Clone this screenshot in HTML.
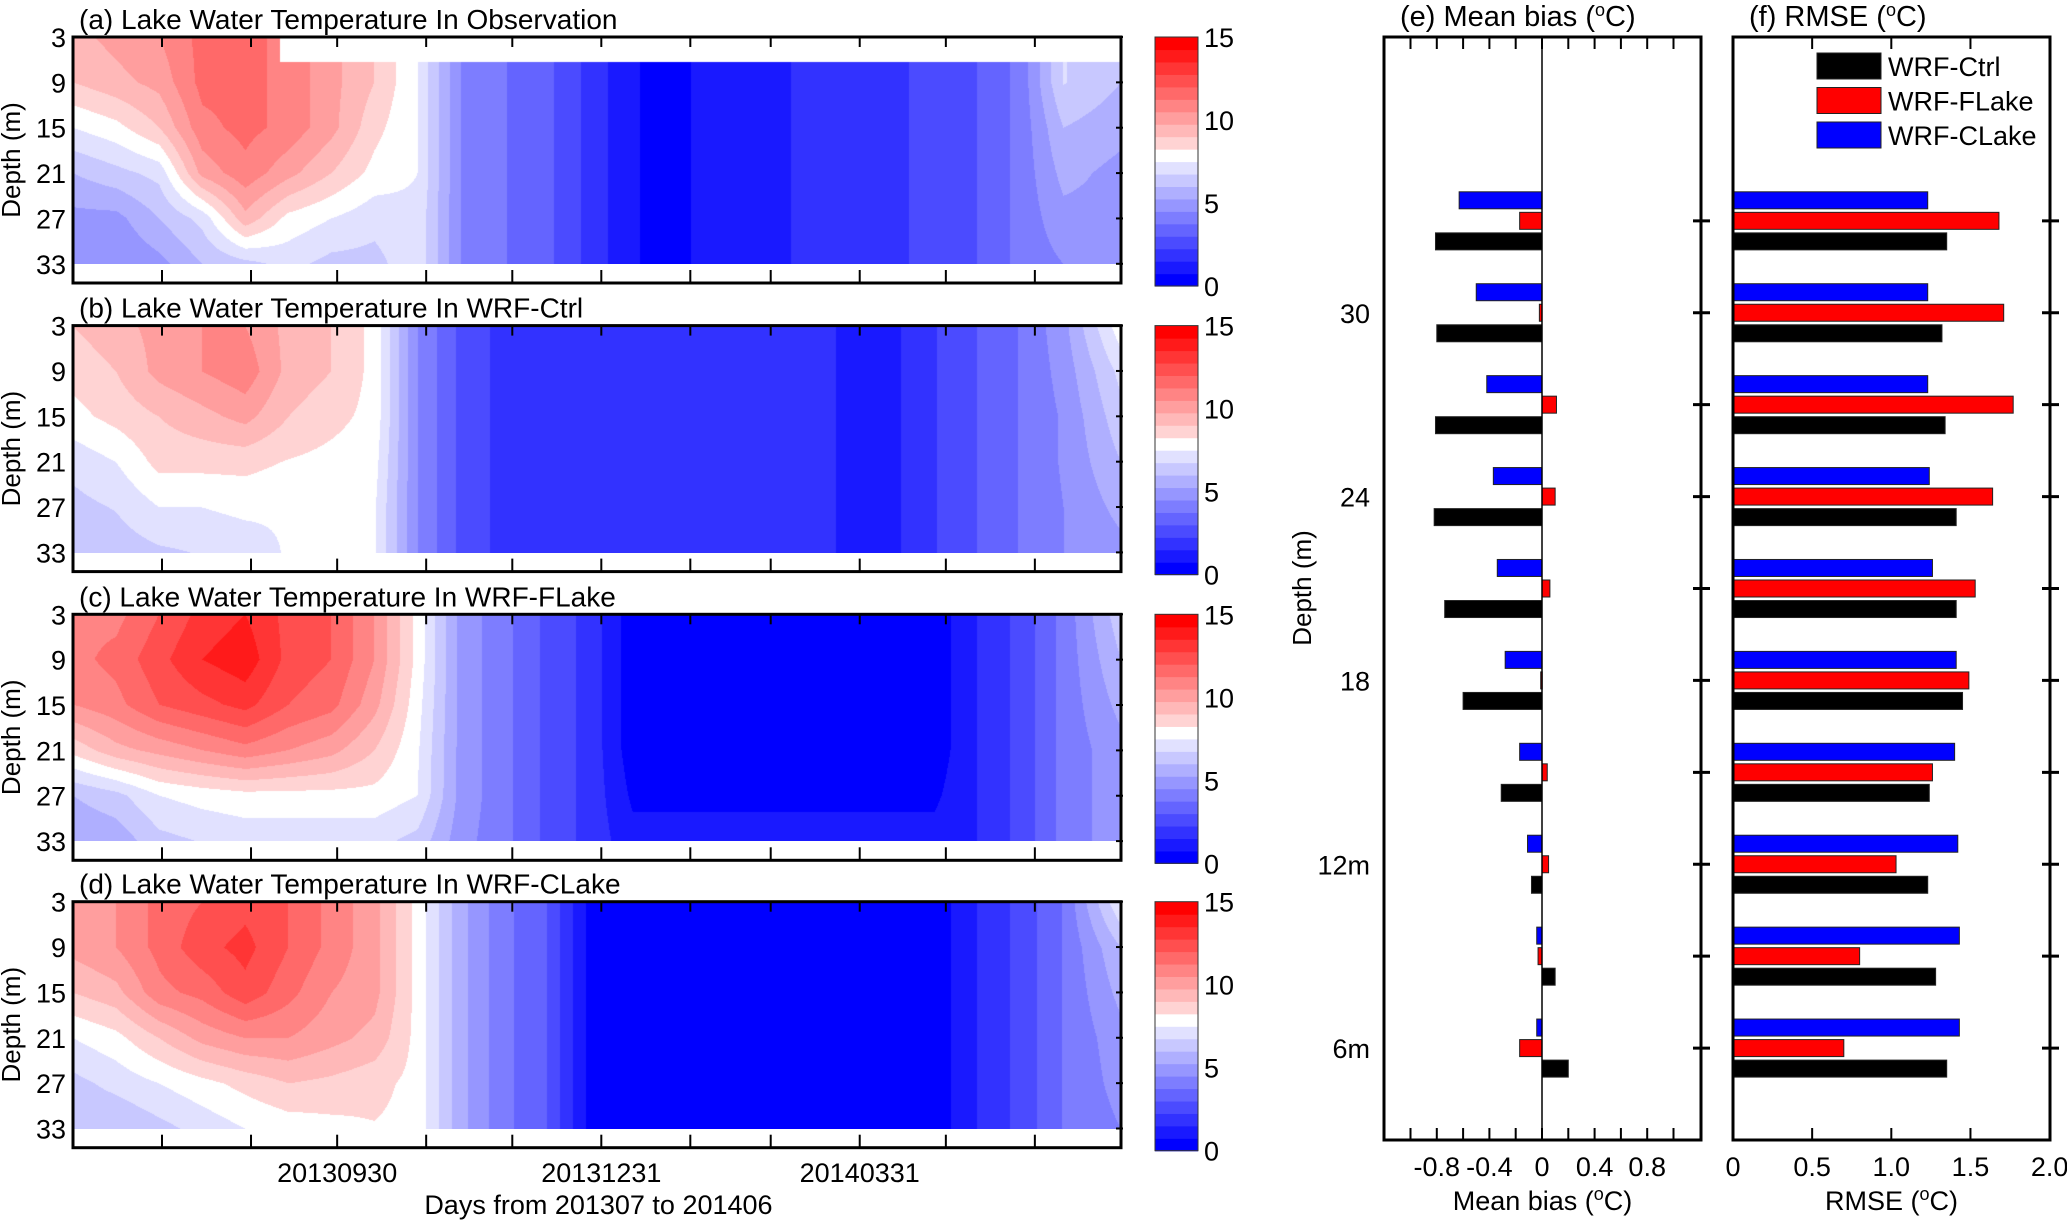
<!DOCTYPE html>
<html><head><meta charset="utf-8">
<style>
html,body{margin:0;padding:0;background:#fff;}
#wrap{position:relative;width:2067px;height:1220px;overflow:hidden;background:#fff;font-family:"Liberation Sans Narrow","Liberation Sans",sans-serif;}
canvas{position:absolute;}
svg{position:absolute;left:0;top:0;}
svg text{font-family:"Liberation Sans Narrow","Liberation Sans",sans-serif;fill:#000;}
</style></head>
<body>
<div id="wrap">
<canvas id="cv0"></canvas>
<canvas id="cv1"></canvas>
<canvas id="cv2"></canvas>
<canvas id="cv3"></canvas>
<svg id="svg" width="2067" height="1220"></svg>
</div>
<script>
// ---------- heatmap data ----------
const gridDays=[0,15,30,45,60,75,90,105,120,135,150,165,180,195,210,225,240,255,270,285,300,315,330,345,365];
const gridDepths=[3,9,15,21,27,33];
const obsTemp=[[9.5,9,7.5,6,5,4.5],[10,9.5,8,6.5,5,4.5],[10.5,10,9,7,6,5],[11.5,11.5,11,10,7,6],[11.5,11.5,11.5,11,9.5,6.5],
[null,11,11,10,8,7],[null,10,10,9,7.5,6.5],[null,9,8.5,8,7,6.5],[null,7.5,7.5,7.5,7.3,7.3],[null,4.5,4.5,4.5,4.5,4.5],
[null,3.8,3.8,3.8,3.8,3.8],[null,3.2,3.2,3.2,3.2,3.2],[null,2,2,2,2,2],[null,0.8,0.8,0.8,0.8,0.8],[null,0.5,0.5,0.5,0.5,0.5],
[null,1.2,1.2,1.2,1.2,1.2],[null,1.3,1.3,1.3,1.3,1.3],[null,1.6,1.6,1.6,1.6,1.6],[null,1.9,1.9,1.9,1.9,1.9],[null,2,2,2,2,2],
[null,2.6,2.6,2.6,2.6,2.6],[null,3,3,3,3,3],[null,4,4,4,4,4],[null,6.8,6,5.5,5,4.5],[null,6,5.5,5,5,4.5]];
const ctrlTemp=[[9,8.5,8,7,6.5,6.3],[9.5,9,8.5,7.5,6.8,6.3],[10,10,9,8.5,7.5,6.6],[10.5,10.5,9.5,8.5,7.5,6.8],[10.5,11,10,8.5,7.7,7],
[9.5,9.5,9,8.2,7.6,7.6],[9,9,8.5,8,7.6,7.6],[8,8,8,7.8,7.6,7.6],[4.5,4.5,4.5,4.5,4.5,4.5],[2.8,2.8,2.8,2.8,2.8,2.8],
[2,2,2,2,2,2],[2,2,2,2,2,2],[2,2,2,2,2,2],[2,2,2,2,2,2],[2,2,2,2,2,2],[2,2,2,2,2,2],[2,2,2,2,2,2],[2,2,2,2,2,2],
[1.3,1.3,1.3,1.3,1.3,1.3],[1.3,1.3,1.3,1.3,1.3,1.3],[2.2,2.2,2.2,2.2,2.2,2.2],[3,3,3,3,3,3],[3.8,3.8,3.8,3.8,3.8,3.8],
[5,4.8,4.6,4.6,4.5,4.5],[8,7,6.5,6,5.5,5]];
const flakeTemp=[[11,11,10.5,8.5,6,5.3],[11,11.5,11,9.5,6.5,5.5],[12,12.5,12,10,7.5,6.5],[13,13.5,12.5,10.5,7.8,6.8],[13.5,14,13,11,8,7],
[12.5,12.5,12,10.5,8,7],[12,12,11.5,10,8,7],[10.5,10.5,10,9,8,7],[8,8,7.8,7.6,7.5,6.5],[5,5,5,5,5,4.8],
[4,4,4,4,4,4],[2.8,2.8,2.8,2.8,2.8,2.8],[2,2,2,2,2,2],[0.3,0.3,0.3,0.3,0.6,1],[0.3,0.3,0.3,0.3,0.6,1],[0.3,0.3,0.3,0.3,0.6,1],
[0.3,0.3,0.3,0.3,0.6,1],[0.3,0.3,0.3,0.3,0.6,1],[0.3,0.3,0.3,0.3,0.6,1],[0.3,0.3,0.3,0.3,0.6,1],[0.3,0.3,0.3,0.3,0.6,1],
[1.5,1.5,1.5,1.5,1.5,1.5],[2.5,2.5,2.5,2.5,2.5,2.5],[4,4,4,4,4,4],[6.5,6,5.5,5,5,5]];
const clakeTemp=[[10,10,9,7.5,6.5,6],[10.5,10.5,9.5,8,7,6],[11.5,11.5,11,9,7.5,6.5],[12,12.5,11.5,10,8,7],[12.5,13,12.5,10.5,8.5,7.5],
[12,12,11.5,10.5,9,7.8],[11,11,10.5,10,8.8,8],[10,10,10,9.5,8.5,8.2],[8,8,8,8,8,8],[5.5,5.5,5.5,5.5,5.5,5.5],
[4,4,4,4,4,4],[3,3,3,3,3,3],[0.5,0.5,0.5,0.5,0.5,0.5],[0.3,0.3,0.3,0.3,0.3,0.3],[0.3,0.3,0.3,0.3,0.3,0.3],[0.3,0.3,0.3,0.3,0.3,0.3],
[0.3,0.3,0.3,0.3,0.3,0.3],[0.3,0.3,0.3,0.3,0.3,0.3],[0.3,0.3,0.3,0.3,0.3,0.3],[0.3,0.3,0.3,0.3,0.3,0.3],[0.3,0.3,0.3,0.3,0.3,0.3],
[1.5,1.5,1.5,1.5,1.5,1.5],[2.5,2.5,2.5,2.5,2.5,2.5],[3.8,3.8,3.8,3.8,3.8,3.8],[7.5,6,5.5,5,4.8,4.5]];
const panelTitles=["(a) Lake Water Temperature In Observation","(b) Lake Water Temperature In WRF-Ctrl","(c) Lake Water Temperature In WRF-FLake","(d) Lake Water Temperature In WRF-CLake"];
const depthTicks=[3,9,15,21,27,33];
const monthTickDays=[31,62,92,123,153,184,215,243,274,304,335];
const dateLabelDays=[92,184,274];
const dateLabels=["20130930","20131231","20140331"];
const cbarTicks=[0,5,10,15];
// ---------- bar data ----------
const barDepths=[6,9,12,15,18,21,24,27,30,33];
const biasCtrl=[0.20,0.10,-0.08,-0.31,-0.60,-0.74,-0.82,-0.81,-0.80,-0.81];
const biasFLake=[-0.17,-0.03,0.05,0.04,-0.01,0.06,0.10,0.11,-0.02,-0.17];
const biasCLake=[-0.04,-0.04,-0.11,-0.17,-0.28,-0.34,-0.37,-0.42,-0.50,-0.63];
const rmseCtrl=[1.35,1.28,1.23,1.24,1.45,1.41,1.41,1.34,1.32,1.35];
const rmseFLake=[0.70,0.80,1.03,1.26,1.49,1.53,1.64,1.77,1.71,1.68];
const rmseCLake=[1.43,1.43,1.42,1.40,1.41,1.26,1.24,1.23,1.23,1.23];
const biasTicks=[-0.8,-0.4,0,0.4,0.8];
const biasMinor=[-1.0,-0.8,-0.6,-0.4,-0.2,0,0.2,0.4,0.6,0.8,1.0];
const rmseTicks=[0,0.5,1.0,1.5,2.0];
const rmseTickLabels=["0","0.5","1.0","1.5","2.0"];
const barDepthLabelVals=[6,12,18,24,30];
const barDepthLabels=["6m","12m","18","24","30"];
const seriesNames=["WRF-Ctrl","WRF-FLake","WRF-CLake"];
const seriesColors=["#000000","#ff0000","#0000ff"];

const NS="http://www.w3.org/2000/svg";
const svg=document.getElementById('svg');
function mk(tag,attrs,parent,txt){const e=document.createElementNS(NS,tag);for(const k in attrs)e.setAttribute(k,attrs[k]);if(txt!==undefined)e.textContent=txt;(parent||svg).appendChild(e);return e;}

function bandColor(v){
  let k=Math.floor(v/0.75); if(k<0)k=0; if(k>19)k=19;
  if(k===10) return [255,255,255];
  if(k<10){const t=k/10.2;const c=Math.round(255*t);return [c,c,255];}
  const s=(k-10)/9;const c=Math.round(255*(1-s)*0.93);return [255,c,c];
}
function val(grid,i,j){
  let v=grid[i][j];
  if(v===null&&j+1<gridDepths.length)v=grid[i][j+1];
  return v;
}
function interp(grid,day,depth){
  let i=0;while(i<gridDays.length-2&&day>gridDays[i+1])i++;
  let j=0;while(j<gridDepths.length-2&&depth>gridDepths[j+1])j++;
  const fx=Math.min(1,Math.max(0,(day-gridDays[i])/(gridDays[i+1]-gridDays[i])));
  const fy=Math.min(1,Math.max(0,(depth-gridDepths[j])/(gridDepths[j+1]-gridDepths[j])));
  if(j===0&&depth<6.3&&grid[fx<0.8?i:i+1][0]===null)return null;
  const a=val(grid,i,j),b=val(grid,i+1,j),c=val(grid,i,j+1),d=val(grid,i+1,j+1);
  return a*(1-fx)*(1-fy)+b*fx*(1-fy)+c*(1-fx)*fy+d*fx*fy;
}
const X0=73,X1=1121,pxPerM=7.56;
const panelTops=[37,325.6,614.3,901.7];
const boxH=246;
function xDay(d){return X0+d*(X1-X0)/365;}
const grids=[obsTemp,ctrlTemp,flakeTemp,clakeTemp];
const panelNames=['observation','wrf-ctrl','wrf-flake','wrf-clake'];

grids.forEach((grid,p)=>{
  const top=panelTops[p];
  const cv=document.getElementById('cv'+p);
  const W=X1-X0,H=Math.round(30*pxPerM);
  cv.width=W;cv.height=H;cv.style.left=X0+'px';cv.style.top=top+'px';
  const ctx=cv.getContext('2d');const img=ctx.createImageData(W,H);
  for(let px=0;px<W;px++){
    const day=(px+0.5)/W*365;
    for(let py=0;py<H;py++){
      const depth=3+(py+0.5)/pxPerM;
      const v=interp(grid,day,depth);
      const col=v===null?[255,255,255]:bandColor(v);
      const o=(py*W+px)*4;img.data[o]=col[0];img.data[o+1]=col[1];img.data[o+2]=col[2];img.data[o+3]=255;
    }
  }
  ctx.putImageData(img,0,0);
  const g=mk('g',{});
  
  
  const t=mk('text',{x:79,y:top-8,'font-size':28},g,panelTitles[p]);
  
  
  const frame=mk('rect',{x:X0,y:top,width:X1-X0,height:boxH,fill:'none',stroke:'#000','stroke-width':3},g);
  
  
  monthTickDays.forEach(d=>{
    const x=xDay(d);
    const tk=mk('line',{x1:x,x2:x,y1:top+boxH,y2:top+boxH-13,stroke:'#000','stroke-width':2},g);
    
    
    const tk2=mk('line',{x1:x,x2:x,y1:top,y2:top+10,stroke:'#000','stroke-width':2},g);
    
    
  });
  depthTicks.forEach(d=>{
    const y=top+(d-3)*pxPerM;
    const lb=mk('text',{x:66,y:y+10,'font-size':27,'text-anchor':'end'},g,String(d));
    
    
    const tk=mk('line',{x1:X1-5,x2:X1+2,y1:y,y2:y,stroke:'#000','stroke-width':2},g);
    
    
  });
  const yt=mk('text',{x:0,y:0,'font-size':26,'text-anchor':'middle',transform:`translate(20,${top+boxH/2}) rotate(-90)`},g,'Depth (m)');
  
  
  const cx=1155,cw=43,ctop=top,cbot=top+boxH+3;
  const bh=(cbot-ctop)/20;
  for(let k=0;k<20;k++){
    const col=bandColor(k*0.75+0.1);
    const r=mk('rect',{x:cx,y:cbot-(k+1)*bh,width:cw,height:bh+0.6,fill:`rgb(${col[0]},${col[1]},${col[2]})`},g);
    
    
  }
  mk('rect',{x:cx,y:ctop,width:cw,height:cbot-ctop,fill:'none',stroke:'#333','stroke-width':1},g);
  cbarTicks.forEach(v=>{
    const y=cbot-v/15*(cbot-ctop);
    const lb=mk('text',{x:cx+cw+6,y:y+10,'font-size':27},g,String(v));
    
    
  });
});
dateLabelDays.forEach((d,i)=>{
  const lb=mk('text',{x:xDay(d),y:1182,'font-size':27,'text-anchor':'middle'},svg,dateLabels[i]);
  
  
});
const xt=mk('text',{x:xDay(183),y:1214,'font-size':27,'text-anchor':'middle'},svg,'Days from 201307 to 201406');



// ---------- bar panels ----------
const BT=37,BB=1140;
function yDepth(d){return BT+(39-d)*(BB-BT)/36;}
const barH=17,barOff=0.67;
function xBias(v){return 1542+v*131.5;}
function xRmse(v){return 1733+v*158.3;}
const Ebox={l:1384,r:1701},Fbox={l:1733,r:2050};
function panel(box,xs,ctrl,fl,cl,name,title,xtitle){
  const g=mk('g',{});
  
  
  const series=[cl,fl,ctrl];const cols=['#0000ff','#ff0000','#000000'];const offs=[barOff,0,-barOff];
  const snames=['bar-clake','bar-flake','bar-ctrl'];
  barDepths.forEach((d,i)=>{
    series.forEach((s,k)=>{
      const v=s[i];const x0=xs(0),x1=xs(v);
      const yc=yDepth(d+offs[k]);
      const r=mk('rect',{x:Math.min(x0,x1),y:yc-barH/2,width:Math.max(1.5,Math.abs(x1-x0)),height:barH,fill:cols[k],stroke:'#222','stroke-width':1},g);
      
      
    });
  });
  const fr=mk('rect',{x:box.l,y:BT,width:box.r-box.l,height:BB-BT,fill:'none',stroke:'#000','stroke-width':3},g);
  
  
  barDepths.forEach(d=>{
    const y=yDepth(d);
    const tk=mk('line',{x1:box.r-8,x2:box.r+9,y1:y,y2:y,stroke:'#000','stroke-width':3},g);
    
    
  });
  const t=mk('text',{x:box.l+16,y:26,'font-size':29},g,title);
  
  
  const xtl=mk('text',{x:(box.l+box.r)/2,y:1210,'font-size':27,'text-anchor':'middle'},g,xtitle);
  
  
  return g;
}
const ge=panel(Ebox,xBias,biasCtrl,biasFLake,biasCLake,'panel-mean-bias','(e) Mean bias (\u00B0C)','Mean bias (\u00B0C)');
const gf=panel(Fbox,xRmse,rmseCtrl,rmseFLake,rmseCLake,'panel-rmse','(f) RMSE (\u00B0C)','RMSE (\u00B0C)');
document.querySelectorAll('text').forEach(t=>{ if(t.textContent.includes('\u00B0C')){const s=t.textContent.split('\u00B0C');t.textContent='';
  t.appendChild(document.createTextNode(s[0]));const ts=document.createElementNS(NS,'tspan');ts.setAttribute('dy','-10');ts.setAttribute('font-size','18');ts.textContent='o';t.appendChild(ts);
  const ts2=document.createElementNS(NS,'tspan');ts2.setAttribute('dy','10');ts2.textContent='C'+s[1];t.appendChild(ts2);} });
const zl=mk('line',{x1:xBias(0),x2:xBias(0),y1:BT,y2:BB,stroke:'#000','stroke-width':1.5},ge);


biasMinor.forEach(v=>{
  const x=xBias(v);
  const a=mk('line',{x1:x,x2:x,y1:BB,y2:BB-12,stroke:'#000','stroke-width':2},ge);
  
  
  const b=mk('line',{x1:x,x2:x,y1:BT,y2:BT+12,stroke:'#000','stroke-width':2},ge);
  
  
});
biasTicks.forEach(v=>{
  const lb=mk('text',{x:xBias(v),y:1176,'font-size':27,'text-anchor':'middle'},ge,v===0?'0':v.toFixed(1));
  
  
});
rmseTicks.forEach((v,i)=>{
  const x=xRmse(v);
  const a=mk('line',{x1:x,x2:x,y1:BB,y2:BB-12,stroke:'#000','stroke-width':2},gf);
  
  
  const b=mk('line',{x1:x,x2:x,y1:BT,y2:BT+12,stroke:'#000','stroke-width':2},gf);
  
  
  const lb=mk('text',{x:x,y:1176,'font-size':27,'text-anchor':'middle'},gf,rmseTickLabels[i]);
  
  
});
barDepthLabelVals.forEach((d,i)=>{
  const lb=mk('text',{x:1370,y:yDepth(d)+10,'font-size':27,'text-anchor':'end'},ge,barDepthLabels[i]);
  
  
});
const yt2=mk('text',{x:0,y:0,'font-size':26,'text-anchor':'middle',transform:'translate(1311,588) rotate(-90)'},svg,'Depth (m)');


const lg=mk('g',{});


seriesNames.forEach((n,i)=>{
  const yc=66+i*34.5;
  const r=mk('rect',{x:1817,y:yc-13,width:64,height:26,fill:seriesColors[i],stroke:'#222','stroke-width':1},lg);
  
  
  const t=mk('text',{x:1888,y:yc+10,'font-size':27},lg,n);
  
  
});
</script>
</body></html>
